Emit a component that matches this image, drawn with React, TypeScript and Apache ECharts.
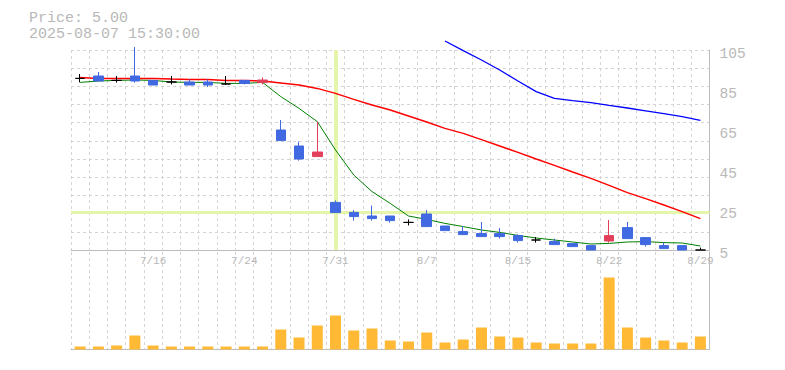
import React, { useEffect, useRef } from 'react';
import * as echarts from 'echarts';

// ---- data ----
const dates = [
  '7/10', '7/11', '7/14', '7/15', '7/16', '7/17', '7/18', '7/22', '7/23', '7/24',
  '7/25', '7/28', '7/29', '7/30', '7/31', '8/1', '8/4', '8/5', '8/6', '8/7',
  '8/8', '8/12', '8/13', '8/14', '8/15', '8/18', '8/19', '8/20', '8/21', '8/22',
  '8/25', '8/26', '8/27', '8/28', '8/29',
];
const dateLabels = ['7/16', '7/24', '7/31', '8/7', '8/15', '8/22', '8/29'];

// [open, close, low, high]
const candles: number[][] = [
  [90.8, 90.8, 88.8, 93],
  [92, 89.5, 89.5, 94],
  [89.8, 89.8, 88.7, 92],
  [92, 89.5, 88.7, 106.5],
  [89.8, 87.5, 87.5, 89.8],
  [89, 89, 87.8, 92],
  [89, 87.5, 87.5, 90.3],
  [89, 87.5, 86.5, 90.3],
  [88, 88, 87.5, 92],
  [89.8, 88.3, 87.8, 89.8],
  [88.7, 90, 87.8, 91.3],
  [65, 59.7, 59.7, 70],
  [57, 50.5, 49.7, 59.2],
  [51.7, 54, 51.7, 69.2],
  [28.8, 23.7, 23.7, 29.8],
  [23.8, 21.7, 19.7, 25],
  [22, 20.7, 19.7, 27.2],
  [22, 19.7, 18.7, 22],
  [18.8, 18.8, 17.3, 20.3],
  [23, 16.7, 16.7, 25],
  [17, 14.7, 14.7, 17],
  [14.2, 12.7, 12.7, 17],
  [13.2, 11.7, 11.7, 19],
  [13.2, 11.7, 10.7, 16],
  [12.2, 9.7, 8.7, 12.8],
  [10, 10, 8.7, 11.5],
  [9.2, 7.7, 7.7, 10.7],
  [8.2, 6.7, 6.7, 8.2],
  [7.2, 5, 5, 7.2],
  [9.5, 12.2, 8.7, 20],
  [16.2, 10.7, 10.7, 19],
  [11.2, 7.7, 6.7, 11.2],
  [7.2, 5.7, 5.7, 8.7],
  [7.2, 5, 5, 7.2],
  [5, 5, 5, 6.2],
];

const maShort = [
  88.8, 89.5, 89.8, 90, 89.8, 89, 88.8, 88.8, 88.3, 88.3,
  88.8, 81.7, 75.8, 69.2, 55, 42.5, 34.2, 28.3, 22, 20.3,
  18.3, 16.7, 15, 13.8, 12.3, 11, 10, 9, 8, 8.3,
  9, 9.2, 8.7, 8.5, 7,
];
const maMid = [
  91.3, 90.8, 90.8, 90.8, 90.8, 90.5, 90.3, 90.3, 89.7, 89.7,
  89.5, 88.5, 87.5, 85.8, 83.3, 80.3, 77.5, 75, 72, 69,
  65.8, 63.3, 60.2, 57, 53.8, 50.5, 47.3, 44, 40.8, 37.3,
  33.7, 30.7, 27.5, 24.2, 20.7,
];
const maLong: (number | string)[] = [
  '-', '-', '-', '-', '-', '-', '-', '-', '-', '-',
  '-', '-', '-', '-', '-', '-', '-', '-', '-', '-',
  109.5, 104.7, 100, 95, 89.5, 84.2, 80.8, 79.7, 78.7, 77.3,
  76, 74.6, 73.2, 71.7, 69.8,
];
const volumes = [
  30, 30, 40, 140, 40, 30, 30, 30, 30, 30,
  30, 200, 120, 240, 340, 190, 210, 90, 80, 170,
  70, 100, 220, 130, 120, 70, 60, 60, 60, 720,
  220, 120, 90, 70, 130,
];

const headerPrice = 'Price: 5.00';
const headerTime = '2025-08-07 15:30:00';
const crossDate = '7/31';
const crossPrice = 23.8;

// ---- styles ----
const MONO = "'Liberation Mono', 'DejaVu Sans Mono', monospace";
const AXIS = '#bdbdbd';
const GRID = '#d4d4d4';
const TEXT = '#b8b8b8';
const UP = '#e2405a';
const DOWN = '#4169e1';
const DOJI = '#000000';
const CROSS = '#e5f5a9';

export default function App() {
  const ref = useRef<HTMLDivElement>(null);
  useEffect(() => {
    document.body.style.margin = '0';
    const chart = echarts.init(ref.current!, null, { renderer: 'svg' });
    const candleData = candles.map((c) =>
      c[0] === c[1]
        ? {
            value: c,
            itemStyle: {
              color: DOJI,
              color0: DOJI,
              borderColor: DOJI,
              borderColor0: DOJI,
              borderColorDoji: DOJI,
            },
          }
        : c
    );
    const dashed = { color: GRID, type: [3, 3] as number[], width: 1 };
    chart.setOption({
      animation: false,
      graphic: [
        {
          type: 'text',
          x: 29,
          y: 18,
          style: {
            text: headerPrice,
            fill: TEXT,
            font: `15px ${MONO}`,
            verticalAlign: 'middle',
          },
        },
        {
          type: 'text',
          x: 29,
          y: 34,
          style: {
            text: headerTime,
            fill: TEXT,
            font: `15px ${MONO}`,
            verticalAlign: 'middle',
          },
        },
      ],
      grid: [
        { left: 71, top: 50, width: 638.5, height: 200, outerBoundsMode: 'none' },
        { left: 71, top: 252, width: 638.5, height: 97.5, outerBoundsMode: 'none' },
      ],
      xAxis: [
        {
          type: 'category',
          gridIndex: 0,
          data: dates,
          boundaryGap: true,
          axisLine: { show: true, onZero: false, lineStyle: { color: AXIS } },
          axisTick: { show: false },
          axisLabel: {
            interval: (_i: number, v: string) => dateLabels.includes(v),
            color: '#b8b8b8',
            fontFamily: MONO,
            fontSize: 11,
            margin: 5,
          },
          splitLine: { show: true, interval: 0, lineStyle: dashed },
        },
        {
          type: 'category',
          gridIndex: 1,
          data: dates,
          boundaryGap: true,
          axisLine: { show: true, onZero: false, lineStyle: { color: AXIS } },
          axisTick: { show: false },
          axisLabel: { show: false },
          splitLine: { show: true, interval: 0, lineStyle: dashed },
        },
      ],
      yAxis: [
        {
          type: 'value',
          gridIndex: 0,
          position: 'right',
          min: 5,
          max: 105,
          interval: 20,
          axisLine: { show: true, lineStyle: { color: AXIS } },
          axisTick: { show: false },
          splitLine: { show: false },
          axisLabel: {
            color: TEXT,
            fontFamily: MONO,
            fontSize: 14.5,
            margin: 10,
            verticalAlign: 'top',
            lineHeight: 8,
          },
        },
        {
          type: 'value',
          gridIndex: 0,
          position: 'left',
          min: 0,
          max: 11,
          interval: 1,
          axisLine: { show: false },
          axisTick: { show: false },
          axisLabel: { show: false },
          splitLine: { show: true, lineStyle: dashed },
        },
        {
          type: 'value',
          gridIndex: 1,
          position: 'right',
          min: 0,
          max: 975,
          axisLine: { show: true, lineStyle: { color: AXIS } },
          axisTick: { show: false },
          axisLabel: { show: false },
          splitLine: { show: false },
        },
      ],
      series: [
        {
          type: 'candlestick',
          xAxisIndex: 0,
          yAxisIndex: 0,
          data: candleData,
          barWidth: 10,
          clip: false,
          z: 3,
          itemStyle: {
            color: UP,
            color0: DOWN,
            borderColor: UP,
            borderColor0: DOWN,
            borderColorDoji: DOJI,
            borderWidth: 1,
          },
          markLine: {
            z: 1,
            silent: true,
            symbol: 'none',
            label: { show: false },
            emphasis: { disabled: true },
            data: [
              { xAxis: crossDate, lineStyle: { color: CROSS, width: 4, type: 'solid' } },
              { yAxis: crossPrice, lineStyle: { color: CROSS, width: 3, type: 'solid' } },
            ],
          },
        },
        {
          type: 'line',
          xAxisIndex: 0,
          yAxisIndex: 0,
          data: maShort,
          symbol: 'none',
          clip: false,
          z: 2,
          lineStyle: { color: '#008000', width: 1 },
        },
        {
          type: 'line',
          xAxisIndex: 0,
          yAxisIndex: 0,
          data: maMid,
          symbol: 'none',
          clip: false,
          z: 2,
          lineStyle: { color: '#ff0000', width: 1.5 },
        },
        {
          type: 'line',
          xAxisIndex: 0,
          yAxisIndex: 0,
          data: maLong,
          symbol: 'none',
          clip: false,
          z: 2,
          lineStyle: { color: '#0000ff', width: 1.3 },
        },
        {
          type: 'bar',
          xAxisIndex: 1,
          yAxisIndex: 2,
          data: volumes,
          barWidth: 11,
          itemStyle: { color: '#ffb934' },
        },
      ],
    });
    return () => chart.dispose();
  }, []);
  return <div ref={ref} style={{ width: 785, height: 370 }} />;
}
